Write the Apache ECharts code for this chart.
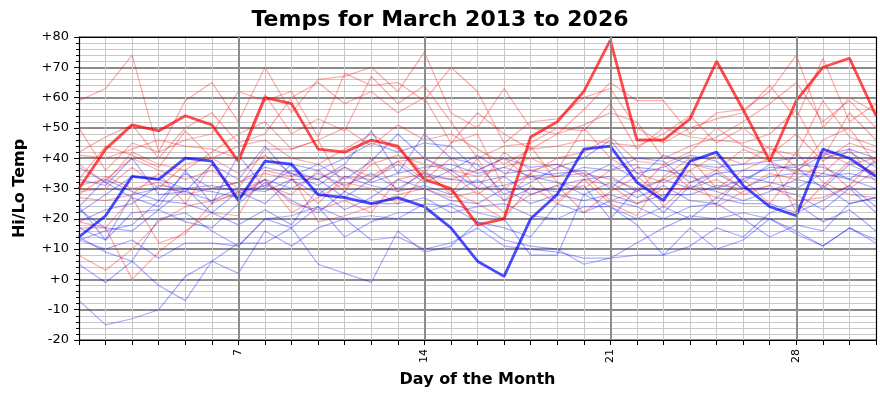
<!DOCTYPE html>
<html>
<head>
<meta charset="utf-8">
<script src="https://cdn.jsdelivr.net/npm/echarts@6/dist/echarts.min.js"></script>
<style>html,body{margin:0;padding:0;background:#fff}#chart{width:880px;height:400px}</style>
</head>
<body>
<div id="chart"></div>
<script>
// ---- data ----
const days = [1,2,3,4,5,6,7,8,9,10,11,12,13,14,15,16,17,18,19,20,21,22,23,24,25,26,27,28,29,30,31];
const majorDays = [7, 14, 21, 28];
const yTickValues = [-20,-10,0,10,20,30,40,50,60,70,80];

// current year (2026)
const hi2026 = [30,43,51,49,54,51,39,60,58,43,42,46,44,33,30,18,20,47,52,62,79,46,46,53,72,56,39,59,70,73,54];
const lo2026 = [14,21,34,33,40,39,26,39,38,28,27,25,27,24,17,6,1,20,28,43,44,32,26,39,42,31,24,21,43,40,34];

// past years highs
const hi2013 = [59,63,74,42,59,65,52,70,55,66,67,70,62,75,55,50,63,50,48,56,65,59,59,48,55,56,62,74,50,60,55];
const hi2014 = [50,36,45,42,46,48,62,59,62,47,68,64,65,59,70,62,45,52,53,60,63,50,45,50,53,55,64,53,73,52,58];
const hi2015 = [42,47,51,40,50,55,45,48,60,65,58,62,55,60,45,55,48,43,48,51,55,52,40,44,47,52,58,65,52,59,50];
const hi2016 = [41,40,43,46,44,43,40,61,48,53,49,67,58,64,52,40,44,45,50,49,58,43,50,47,46,45,48,56,40,55,46];
const hi2017 = [38,32,42,38,36,42,48,52,43,46,50,44,51,46,48,43,38,43,44,46,45,44,48,54,45,50,43,41,59,47,44];
const hi2018 = [33,44,41,37,49,40,44,46,40,38,43,48,43,35,45,48,30,35,40,42,47,39,38,42,50,44,41,48,39,45,42];
const hi2019 = [31,33,40,36,33,36,30,43,43,46,30,38,41,38,36,34,37,40,36,50,40,35,32,36,41,38,44,37,42,38,40];
const hi2020 = [29,30,37,30,38,40,35,41,35,33,37,34,39,33,40,30,42,36,38,35,33,30,33,38,36,43,39,35,46,50,38];
const hi2021 = [28,34,30,32,28,30,32,35,33,25,34,33,39,40,35,28,34,44,32,30,36,38,24,32,36,30,35,33,38,30,36];
const hi2022 = [27,26,28,35,25,38,27,31,28,36,29,40,29,36,28,40,26,35,26,33,31,25,30,30,27,33,25,36,35,43,32];
const hi2023 = [19,17,27,12,15,25,29,33,22,27,32,30,25,34,33,36,40,33,34,35,26,29,38,30,33,28,31,42,32,28,27];
const hi2024 = [17,17,0,9,16,22,21,36,34,19,21,24,28,30,27,29,22,28,31,22,29,34,27,36,24,29,31,26,27,31,40];
const hi2025 = [8,3,10,19,24,26,28,33,25,23,26,22,33,35,29,25,20,31,25,33,25,21,34,40,30,36,40,22,31,39,35];

// past years lows
const lo2013 = [-7,-15,-13,-10,1,6,2,16,11,17,20,13,14,10,12,17,11,10,9,7,7,12,17,21,20,22,20,16,11,17,12];
const lo2014 = [5,-1,6,-2,-7,6,12,12,17,5,2,-1,16,9,11,19,13,11,10,5,7,8,8,17,10,13,20,15,11,17,13];
const lo2015 = [13,10,13,7,12,12,11,20,21,24,14,19,22,22,25,22,20,8,8,28,24,18,8,11,17,14,22,25,19,23,16];
const lo2016 = [14,9,6,20,22,16,11,20,17,24,20,21,20,25,24,19,17,14,25,22,26,24,20,24,25,20,14,18,16,25,27];
const lo2017 = [23,17,16,23,19,17,25,32,26,22,29,25,25,27,22,24,25,21,20,24,24,20,24,20,27,25,25,22,26,31,24];
const lo2018 = [24,13,22,23,30,22,18,23,18,30,23,27,33,30,26,25,30,25,28,26,28,25,28,28,31,30,30,28,23,30,22];
const lo2019 = [13,16,18,26,25,22,29,25,33,28,34,31,29,31,28,33,26,30,29,31,20,30,22,31,29,26,29,33,31,25,27];
const lo2020 = [17,13,28,30,29,26,30,29,33,33,27,33,38,32,36,30,31,34,32,28,32,27,31,26,25,34,32,30,35,33,30];
const lo2021 = [19,23,25,31,30,29,27,33,30,35,31,35,30,35,33,32,34,28,31,33,34,29,33,30,35,30,34,35,34,35,33];
const lo2022 = [24,33,29,26,35,30,32,37,35,31,37,32,35,37,38,35,37,34,35,36,30,37,36,34,30,33,37,37,30,38,34];
const lo2023 = [33,31,40,28,29,38,33,44,34,38,33,39,48,40,36,41,35,36,34,37,36,40,39,32,35,36,36,38,37,33,39];
const lo2024 = [37,32,27,24,36,25,41,30,38,36,40,45,42,45,44,36,40,37,38,34,38,33,41,38,37,38,39,40,40,42,37];
const lo2025 = [22,28,34,33,30,31,29,31,36,33,38,49,35,48,40,38,28,32,37,40,46,35,37,41,39,32,38,36,41,43,40];

const pastHighs = [hi2013,hi2014,hi2015,hi2016,hi2017,hi2018,hi2019,hi2020,hi2021,hi2022,hi2023,hi2024,hi2025];
const pastLows  = [lo2013,lo2014,lo2015,lo2016,lo2017,lo2018,lo2019,lo2020,lo2021,lo2022,lo2023,lo2024,lo2025];

// ---- chart ----
const FONT = 'DejaVu Sans';
const pair = arr => days.map((d, i) => [d, arr[i]]);

const series = [];
// major vertical grid lines
series.push({
  type: 'line', data: pair(hi2026), silent: true, z: 1,
  lineStyle: { opacity: 0 }, symbol: 'none',
  markLine: {
    silent: true, symbol: 'none', animation: false,
    label: { show: false },
    lineStyle: { color: '#8c8c8c', width: 2, type: 'solid' },
    data: majorDays.map(d => ({ xAxis: d }))
  }
});
pastHighs.forEach(arr => series.push({
  type: 'line', data: pair(arr), symbol: 'none', silent: true, z: 2,
  lineStyle: { color: 'rgba(255,0,0,0.33)', width: 1.2 }
}));
pastLows.forEach(arr => series.push({
  type: 'line', data: pair(arr), symbol: 'none', silent: true, z: 2,
  lineStyle: { color: 'rgba(0,0,255,0.33)', width: 1.2 }
}));
series.push({
  type: 'line', data: pair(hi2026), symbol: 'none', silent: true, z: 3,
  lineStyle: { color: 'rgba(255,0,0,0.7)', width: 2.8 }
});
series.push({
  type: 'line', data: pair(lo2026), symbol: 'none', silent: true, z: 3,
  lineStyle: { color: 'rgba(0,0,255,0.7)', width: 2.8 }
});

const chart = echarts.init(document.getElementById('chart'), null, { renderer: 'canvas' });
chart.setOption({
  animation: false,
  backgroundColor: '#fff',
  title: {
    text: 'Temps for March 2013 to 2026', left: 'center', top: 4,
    textStyle: { fontSize: 22, fontWeight: 'bold', fontFamily: FONT, color: '#000' }
  },
  grid: { left: 79, right: 4, top: 37, bottom: 60 },
  xAxis: [{
    type: 'value', min: 1, max: 31, interval: 1,
    axisLine: { show: true, onZero: false, lineStyle: { color: '#000', width: 1.2 } },
    axisTick: { show: true, length: 5, lineStyle: { color: '#000' } },
    splitLine: { show: true, lineStyle: { color: '#c8c8c8', width: 1 } },
    axisLabel: {
      formatter: v => majorDays.includes(v) ? String(v) : '',
      rotate: 90, fontSize: 11, fontFamily: FONT, color: '#000', margin: 9
    },
    name: 'Day of the Month', nameLocation: 'middle', nameGap: 32,
    nameTextStyle: { fontSize: 16, fontWeight: 'bold', fontFamily: FONT, color: '#000' }
  }, {
    type: 'value', min: 1, max: 31, position: 'top',
    axisLine: { show: true, onZero: false, lineStyle: { color: '#000', width: 1.2 } },
    axisTick: { show: false }, axisLabel: { show: false }, splitLine: { show: false }
  }],
  yAxis: [{
    type: 'value', min: -20, max: 80, interval: 10,
    axisLine: { show: true, onZero: false, lineStyle: { color: '#000', width: 1.2 } },
    axisTick: { show: true, length: 5, lineStyle: { color: '#000' } },
    minorTick: { show: true, splitNumber: 5, length: 3, lineStyle: { color: '#000' } },
    splitLine: { show: true, lineStyle: { color: '#8c8c8c', width: 2 } },
    minorSplitLine: { show: true, lineStyle: { color: '#c8c8c8', width: 1 } },
    axisLabel: {
      formatter: v => (v >= 0 ? '+' + v : String(v)),
      fontSize: 13, fontFamily: FONT, color: '#000', margin: 10
    },
    name: 'Hi/Lo Temp', nameLocation: 'middle', nameGap: 51,
    nameTextStyle: { fontSize: 16, fontWeight: 'bold', fontFamily: FONT, color: '#000' }
  }, {
    type: 'value', min: -20, max: 80, position: 'right',
    axisLine: { show: true, onZero: false, lineStyle: { color: '#000', width: 1.2 } },
    axisTick: { show: false }, axisLabel: { show: false }, splitLine: { show: false }
  }],
  series: series
});
</script>
</body>
</html>
